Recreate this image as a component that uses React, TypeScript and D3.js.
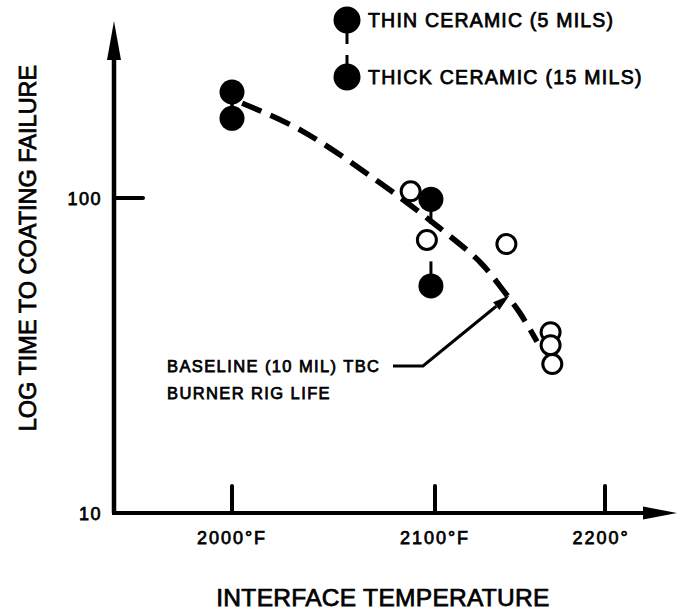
import * as d3 from 'd3';

// ---- data ----
const thinTemps = [2000, 2098];
const thinTimes = [217, 99];
const thickTemps = [2000, 2098];
const thickTimes = [179, 52.6];
const baselineTemps = [2088, 2096, 2142, 2168, 2168, 2169];
const baselineTimes = [105, 73.6, 71.4, 37.5, 34.1, 29.7];
// hand drawn trend line for the 10 mil baseline
const curveTemps = [2005, 2034, 2073, 2102, 2127, 2140, 2150, 2160];
const curveTimes = [200, 164, 111.6, 80.9, 62.2, 51, 43.1, 35];

const xTickValues = [2000, 2100, 2200];
const xTickLabels = ['2000°F', '2100°F', '2200°'];
const yTickValues = [10, 100];
const yTickLabels = ['10', '100'];

const W = 678;
const H = 613;
const X0 = 114;
const X_END = 677;
const Y0 = 513;
const Y_END = 21;
const FONT = '"Liberation Sans", Arial, sans-serif';
const INK = '#000';

// the original axis is not evenly spaced, so the scale is piecewise
const x = d3.scaleLinear().domain([2000, 2100, 2200]).range([232, 435, 605]);
const y = d3.scaleLog().domain([10, 100]).range([Y0, 198]);

const R_FILLED = 12.5;
const R_OPEN = 9.5;
const TAIL = 12;

const textStyle = {
  fontFamily: FONT,
  fill: INK,
  stroke: INK,
  strokeWidth: 0.75,
} as const;

export default function App() {
  const trend = d3
    .line<number>()
    .x((_, i) => x(curveTemps[i]))
    .y((d) => y(d))
    .curve(d3.curveCatmullRom.alpha(0.5));

  // leader line for the baseline note
  const tipX = x(2142) + 3;
  const tipY = y(50.5) + 4;
  const elbowX = 423;
  const elbowY = 366;
  const ang = Math.atan2(tipY - elbowY, tipX - elbowX);
  const headLen = 17;
  const headW = 5;
  const bx = tipX - headLen * Math.cos(ang);
  const by = tipY - headLen * Math.sin(ang);
  const head = [
    [tipX, tipY],
    [bx + headW * Math.sin(ang), by - headW * Math.cos(ang)],
    [bx - headW * Math.sin(ang), by + headW * Math.cos(ang)],
  ]
    .map((p) => p.join(','))
    .join(' ');

  return (
    <svg
      width={W}
      height={H}
      viewBox={`0 0 ${W} ${H}`}
      style={{ position: 'absolute', left: 0, top: 0, background: '#fff' }}
    >
      <rect width={W} height={H} fill="#fff" />

      {/* axes */}
      <line x1={X0} y1={Y0} x2={X0} y2={Y_END + 30} stroke={INK} strokeWidth={4.5} />
      <polygon points={`${X0},${Y_END} ${X0 - 7},${Y_END + 39} ${X0 + 7},${Y_END + 39}`} fill={INK} />
      <line x1={X0 - 2} y1={Y0} x2={X_END - 25} y2={Y0} stroke={INK} strokeWidth={4} />
      <polygon points={`${X_END},${Y0} ${X_END - 34},${Y0 - 6.5} ${X_END - 34},${Y0 + 6.5}`} fill={INK} />

      {/* y ticks */}
      {yTickValues.map((v, i) => (
        <g key={`yt${v}`}>
          {v !== 10 && (
            <line x1={X0} x2={X0 + 29} y1={y(v)} y2={y(v)} stroke={INK} strokeWidth={4} strokeLinecap="round" />
          )}
          <text x={102} y={y(v) + 6.5} textAnchor="end" fontSize={18} letterSpacing={1.5} {...textStyle}>
            {yTickLabels[i]}
          </text>
        </g>
      ))}

      {/* x ticks */}
      {xTickValues.map((v, i) => (
        <g key={`xt${v}`}>
          <line x1={x(v)} x2={x(v)} y1={Y0} y2={Y0 - 27} stroke={INK} strokeWidth={4} strokeLinecap="round" />
          <text
            x={x(v) + (i === 2 ? -4 : 0)}
            y={Y0 + 31}
            textAnchor="middle"
            fontSize={18}
            letterSpacing={2}
            {...textStyle}
          >
            {xTickLabels[i]}
          </text>
        </g>
      ))}

      {/* axis titles */}
      <text x={383} y={606} textAnchor="middle" fontSize={24.5} letterSpacing={0.3} {...textStyle}>
        INTERFACE TEMPERATURE
      </text>
      <text
        transform={`translate(36,248) rotate(-90)`}
        textAnchor="middle"
        fontSize={23.5}
        {...textStyle}
      >
        LOG TIME TO COATING FAILURE
      </text>

      {/* trend */}
      <path
        d={trend(curveTimes) ?? ''}
        fill="none"
        stroke={INK}
        strokeWidth={5.5}
        strokeDasharray="21 10"
      />

      {/* baseline points */}
      {baselineTemps.map((t, i) => (
        <circle
          key={`b${i}`}
          cx={x(t)}
          cy={y(baselineTimes[i])}
          r={R_OPEN}
          fill="#fff"
          stroke={INK}
          strokeWidth={3}
        />
      ))}

      {/* thick ceramic: tail up */}
      {thickTemps.map((t, i) => (
        <g key={`k${i}`}>
          <line
            x1={x(t)}
            x2={x(t)}
            y1={y(thickTimes[i]) - R_FILLED + 2}
            y2={y(thickTimes[i]) - R_FILLED - TAIL}
            stroke={INK}
            strokeWidth={3}
          />
          <circle cx={x(t)} cy={y(thickTimes[i])} r={R_FILLED} fill={INK} />
        </g>
      ))}

      {/* thin ceramic: tail down */}
      {thinTemps.map((t, i) => (
        <g key={`n${i}`}>
          <line
            x1={x(t)}
            x2={x(t)}
            y1={y(thinTimes[i]) + R_FILLED - 2}
            y2={y(thinTimes[i]) + R_FILLED + TAIL}
            stroke={INK}
            strokeWidth={3}
          />
          <circle cx={x(t)} cy={y(thinTimes[i])} r={R_FILLED} fill={INK} />
        </g>
      ))}

      {/* legend */}
      <g>
        <line x1={347} x2={347} y1={30} y2={44} stroke={INK} strokeWidth={3} />
        <circle cx={347} cy={20} r={13.5} fill={INK} />
        <text x={368} y={27} fontSize={19.5} letterSpacing={1.2} {...textStyle}>
          THIN CERAMIC (5 MILS)
        </text>
        <line x1={347} x2={347} y1={55} y2={68} stroke={INK} strokeWidth={3} />
        <circle cx={347} cy={77} r={13.5} fill={INK} />
        <text x={368} y={84} fontSize={19.5} letterSpacing={1.3} {...textStyle}>
          THICK CERAMIC (15 MILS)
        </text>
      </g>

      {/* annotation */}
      <text x={167} y={372} fontSize={16.5} letterSpacing={1.4} {...textStyle}>
        BASELINE (10 MIL) TBC
      </text>
      <text x={167} y={399} fontSize={16.5} letterSpacing={1.4} {...textStyle}>
        BURNER RIG LIFE
      </text>
      <polyline
        points={`393,${elbowY} ${elbowX},${elbowY} ${bx},${by}`}
        fill="none"
        stroke={INK}
        strokeWidth={3}
      />
      <polygon points={head} fill={INK} />
    </svg>
  );
}
